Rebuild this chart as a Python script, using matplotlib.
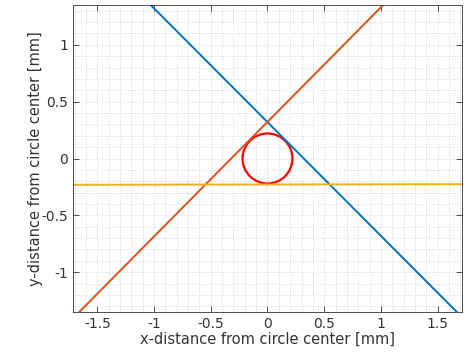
import matplotlib
matplotlib.use('Agg')
import matplotlib.pyplot as plt
from matplotlib.patches import Circle
from matplotlib.ticker import MultipleLocator

plt.rcParams['axes.unicode_minus'] = False
plt.rcParams['font.family'] = 'DejaVu Sans'

# line endpoints (mm)
blue_x = [-1.03, 1.67]
blue_y = [1.35, -1.35]
orange_x = [-1.66, 1.02]
orange_y = [-1.35, 1.35]
yellow_x = [-1.72, 1.72]
yellow_y = [-0.231, -0.226]
circle_center = (0.0, 0.0)
circle_radius = 0.22

xticks = [-1.5, -1, -0.5, 0, 0.5, 1, 1.5]
yticks = [-1, -0.5, 0, 0.5, 1]

fig = plt.figure(figsize=(4.69, 3.52), dpi=100)
ax = fig.add_axes([0.1557, 0.1136, 0.8293, 0.8722])

ax.plot(blue_x, blue_y, color='#0072BD', lw=1.4)
ax.plot(orange_x, orange_y, color='#D95319', lw=1.4)
ax.plot(yellow_x, yellow_y, color='#EDB120', lw=1.4)
ax.add_patch(Circle(circle_center, circle_radius, fc='none', ec='#FF0000', lw=1.6))

ax.set_xlim(-1.715, 1.715)
ax.set_ylim(-1.35, 1.35)

ax.set_xticks(xticks)
ax.set_xticklabels(['-1.5', '-1', '-0.5', '0', '0.5', '1', '1.5'])
ax.set_yticks(yticks)
ax.set_yticklabels(['-1', '-0.5', '0', '0.5', '1'])
ax.xaxis.set_minor_locator(MultipleLocator(0.1))
ax.yaxis.set_minor_locator(MultipleLocator(0.1))

ax.grid(which='both', color='#d4d4d4', linestyle=':', lw=0.7)
ax.set_axisbelow(True)

ax.tick_params(which='major', direction='in', length=4, width=0.6, colors='#333333',
               labelsize=10, top=True, right=True, labelcolor='#333333')
ax.tick_params(which='minor', length=0)
for s in ax.spines.values():
    s.set_color('#333333')
    s.set_linewidth(0.6)

ax.set_xlabel('x-distance from circle center [mm]', fontsize=10.5, color='#333333', labelpad=1)
ax.set_ylabel('y-distance from circle center [mm]', fontsize=10.5, color='#333333', labelpad=-1)

fig.savefig('out.png', dpi=100)
